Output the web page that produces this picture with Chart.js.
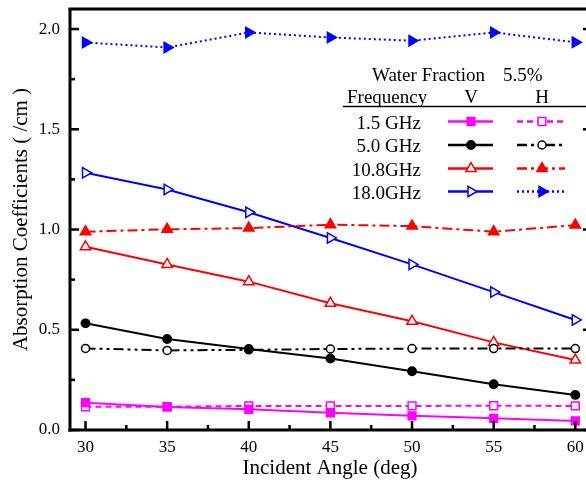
<!DOCTYPE html>
<html>
<head>
<meta charset="utf-8">
<script src="https://cdn.jsdelivr.net/npm/chart.js@4/dist/chart.umd.min.js"></script>
<style>
  html, body { margin: 0; padding: 0; overflow: hidden; background: #fff; }
  canvas { display: block; }
</style>
</head>
<body>
<canvas id="c" width="600" height="483"></canvas>
<script>
// Incident angle (deg) and tick labels
const angles = [30, 35, 40, 45, 50, 55, 60];
const xTicks = [30, 35, 40, 45, 50, 55, 60];
const yTicks = [0.0, 0.5, 1.0, 1.5, 2.0];
const freqLabels = ['1.5 GHz', '5.0 GHz', '10.8GHz', '18.0GHz'];

// Absorption coefficients (/cm), V and H polarisation
const v15  = [0.136, 0.115, 0.103, 0.086, 0.071, 0.058, 0.045];
const h15  = [0.116, 0.116, 0.120, 0.120, 0.120, 0.121, 0.120];
const v50  = [0.532, 0.454, 0.404, 0.357, 0.293, 0.228, 0.175];
const h50  = [0.407, 0.397, 0.400, 0.404, 0.406, 0.406, 0.406];
const v108 = [0.914, 0.826, 0.740, 0.632, 0.542, 0.437, 0.349];
const h108 = [0.989, 1.001, 1.007, 1.024, 1.017, 0.989, 1.022];
const v18  = [1.283, 1.200, 1.086, 0.958, 0.826, 0.688, 0.549];
const h18  = [1.933, 1.908, 1.983, 1.958, 1.942, 1.983, 1.934];

const FONT = '"Liberation Serif", "Times New Roman", serif';

function series(label, values, color, dash, style, filled, rotation, radius) {
  return {
    label,
    data: angles.map((a, i) => ({ x: a, y: values[i] })),
    borderColor: color,
    backgroundColor: color,
    borderWidth: 2,
    borderDash: dash,
    pointStyle: style,
    pointRotation: rotation,
    pointRadius: radius,
    pointHoverRadius: radius,
    pointBorderWidth: 1.5,
    pointBorderColor: color,
    pointBackgroundColor: filled ? color : '#fff',
    tension: 0,
    clip: false
  };
}

const datasets = [
  series('1.5 GHz V', v15, '#ff00ff', [], 'rect', true, 0, 5.5),
  series('1.5 GHz H', h15, '#ff00ff', [6, 4], 'rect', false, 0, 5.5),
  series('5.0 GHz V', v50, '#000000', [], 'circle', true, 0, 4.2),
  series('5.0 GHz H', h50, '#000000', [10, 4, 3, 4, 3, 4], 'circle', false, 0, 4),
  series('10.8GHz V', v108, '#ff0000', [], 'triangle', false, 0, 6),
  series('10.8GHz H', h108, '#ff0000', [10, 4, 3, 4], 'triangle', true, 0, 6),
  series('18.0GHz V', v18, '#0000ff', [], 'triangle', false, 90, 6),
  series('18.0GHz H', h18, '#0000ff', [2, 3], 'triangle', true, 90, 6)
];

// Boxed axes with inward major/minor ticks
const axisFrame = {
  id: 'axisFrame',
  afterDatasetsDraw(chart) {
    const { ctx, chartArea: a, scales: { x, y } } = chart;
    ctx.save();
    ctx.strokeStyle = '#000';
    ctx.setLineDash([]);
    ctx.lineCap = 'butt';
    ctx.lineWidth = 2.5;
    const line = (x1, y1, x2, y2) => { ctx.beginPath(); ctx.moveTo(x1, y1); ctx.lineTo(x2, y2); ctx.stroke(); };
    yTicks.forEach((v, i) => {
      const py = y.getPixelForValue(v);
      line(a.left, py, a.left + 9, py);
      line(a.right - 7, py, a.right, py);
      if (i < yTicks.length - 1) {
        const pm = y.getPixelForValue((v + yTicks[i + 1]) / 2);
        line(a.left, pm, a.left + 5, pm);
        line(a.right - 4, pm, a.right, pm);
      }
    });
    xTicks.forEach((v, i) => {
      const px = x.getPixelForValue(v);
      line(px, a.bottom, px, a.bottom - 9);
      if (i < xTicks.length - 1) {
        const pm = x.getPixelForValue((v + xTicks[i + 1]) / 2);
        line(pm, a.bottom, pm, a.bottom - 5);
      }
    });
    ctx.lineWidth = 3;
    line(a.left, a.top, a.left, a.bottom + 1.5);
    line(a.left - 1.5, a.bottom, a.right, a.bottom);
    line(a.left - 1.5, a.top, a.right, a.top);
    line(a.right, a.top, a.right, a.bottom);
    ctx.restore();
  }
};

// Table-style legend: frequency rows, V and H samples
const tableLegend = {
  id: 'tableLegend',
  afterDraw(chart) {
    const { ctx } = chart;
    const ds = chart.data.datasets;
    ctx.save();
    ctx.fillStyle = '#000';
    ctx.font = '19px ' + FONT;
    ctx.textBaseline = 'alphabetic';
    ctx.textAlign = 'left';
    ctx.fillText('Water Fraction', 372, 81);
    ctx.fillText('5.5%', 503, 81);
    ctx.fillText('Frequency', 347, 103);
    ctx.textAlign = 'center';
    ctx.fillText('V', 471, 103);
    ctx.fillText('H', 542, 103);
    ctx.strokeStyle = '#000';
    ctx.lineWidth = 1.5;
    ctx.beginPath(); ctx.moveTo(343, 106.5); ctx.lineTo(600, 106.5); ctx.stroke();

    const rowY = [121.5, 145, 168.5, 191.5];
    const cols = [[448, 493, 471], [517, 565, 542]];
    freqLabels.forEach((lab, r) => {
      const cy = rowY[r];
      ctx.fillStyle = '#000';
      ctx.textAlign = 'right';
      ctx.fillText(lab, 421, cy + 7);
      cols.forEach((c, k) => {
        const d = ds[r * 2 + k];
        ctx.strokeStyle = d.borderColor;
        ctx.lineWidth = 2.5;
        ctx.setLineDash(d.borderDash);
        ctx.beginPath(); ctx.moveTo(c[0], cy); ctx.lineTo(c[1], cy); ctx.stroke();
        ctx.setLineDash([]);
        ctx.fillStyle = d.pointBackgroundColor;
        ctx.strokeStyle = d.pointBorderColor;
        ctx.lineWidth = d.pointBorderWidth;
        Chart.helpers.drawPoint(ctx, {
          pointStyle: d.pointStyle, radius: d.pointRadius,
          rotation: d.pointRotation, borderWidth: d.pointBorderWidth
        }, c[2], cy);
      });
    });
    ctx.restore();
  }
};

// keep the plot box fixed: no extra room reserved for tick labels
function noPad(s) {
  s.paddingTop = 0; s.paddingBottom = 0; s.paddingLeft = 0; s.paddingRight = 0;
}

new Chart(document.getElementById('c'), {
  type: 'line',
  data: { datasets },
  options: {
    responsive: false,
    animation: false,
    events: [],
    layout: { autoPadding: false, padding: { top: 9, right: 10, left: 0, bottom: 0 } },
    plugins: { legend: { display: false }, tooltip: { enabled: false } },
    scales: {
      x: {
        type: 'linear',
        min: 29.05, max: 60.9,
        grid: { display: false, drawTicks: false },
        border: { display: false },
        afterBuildTicks: s => { s.ticks = xTicks.map(v => ({ value: v })); },
        afterFit: s => { s.height = 53; noPad(s); },
        ticks: {
          color: '#000', padding: 7,
          font: { family: FONT, size: 17 },
          callback: v => String(v), maxRotation: 0, autoSkip: false
        },
        title: {
          display: true, text: 'Incident Angle (deg)', color: '#000',
          font: { family: FONT, size: 21 }, padding: { top: 0, bottom: 2 }
        }
      },
      y: {
        type: 'linear',
        min: 0, max: 2.1,
        grid: { display: false, drawTicks: false },
        border: { display: false },
        afterBuildTicks: s => { s.ticks = yTicks.map(v => ({ value: v })); },
        afterFit: s => { s.width = 70; noPad(s); },
        ticks: {
          color: '#000', padding: 10,
          font: { family: FONT, size: 17 },
          callback: v => Number(v).toFixed(1), autoSkip: false
        },
        title: {
          display: true, text: 'Absorption Coefficients ( /cm )', color: '#000',
          font: { family: FONT, size: 21 }, padding: { top: 9, bottom: 0 }
        }
      }
    }
  },
  plugins: [axisFrame, tableLegend]
});
</script>
</body>
</html>
